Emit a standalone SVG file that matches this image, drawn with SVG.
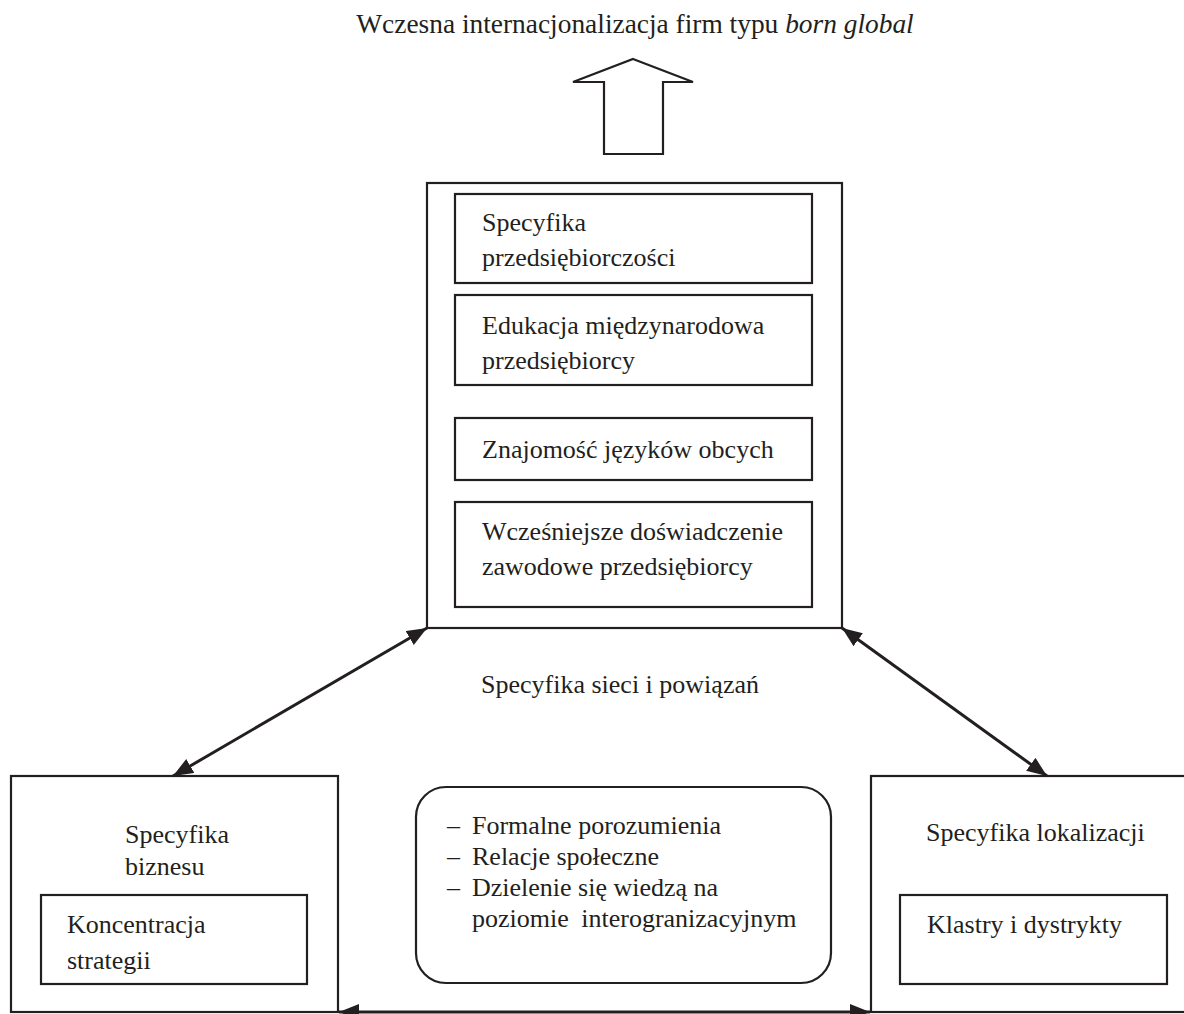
<svg xmlns="http://www.w3.org/2000/svg" width="1184" height="1014" viewBox="0 0 1184 1014">
<style>
.box{fill:none;stroke:#231f20;stroke-width:2.2}
.t{font-family:"Liberation Serif","Times New Roman",serif;font-size:26px;fill:#231f20}
.con{stroke:#231f20;stroke-width:3;fill:none}
</style>
<defs>
<marker id="ah" viewBox="0 0 20 16" refX="20" refY="8" markerWidth="20" markerHeight="16" markerUnits="userSpaceOnUse" orient="auto-start-reverse">
<path d="M0,0 L20,8 L0,16 Z" fill="#231f20"/>
</marker>
</defs>
<rect width="1184" height="1014" fill="#fff"/>
<g id="title">
<text class="t" x="635" y="33" text-anchor="middle" style="font-size:27.4px">Wczesna internacjonalizacja firm typu <tspan font-style="italic">born global</tspan></text>
</g>
<g id="up-arrow">
<polygon class="box" points="633,59 693,82 663,82 663,154 604,154 604,82 573,82"/>
</g>
<g id="center-box">
<rect class="box" x="427" y="183" width="415" height="445"/>
<rect class="box" x="455" y="194" width="357" height="89"/>
<text class="t" x="482" y="231">Specyfika</text>
<text class="t" x="482" y="266">przedsiębiorczości</text>
<rect class="box" x="455" y="295" width="357" height="90"/>
<text class="t" x="482" y="334">Edukacja międzynarodowa</text>
<text class="t" x="482" y="369">przedsiębiorcy</text>
<rect class="box" x="455" y="418" width="357" height="62"/>
<text class="t" x="482" y="458">Znajomość języków obcych</text>
<rect class="box" x="455" y="502" width="357" height="105"/>
<text class="t" x="482" y="540">Wcześniejsze doświadczenie</text>
<text class="t" x="482" y="575">zawodowe przedsiębiorcy</text>
</g>
<g id="network-label">
<text class="t" x="620" y="693" text-anchor="middle">Specyfika sieci i powiązań</text>
</g>
<g id="left-box">
<rect class="box" x="11" y="776" width="327" height="236"/>
<text class="t" x="125" y="843">Specyfika</text>
<text class="t" x="125" y="875">biznesu</text>
<rect class="box" x="41" y="895" width="266" height="89"/>
<text class="t" x="67" y="933">Koncentracja</text>
<text class="t" x="67" y="969">strategii</text>
</g>
<g id="middle-box">
<rect class="box" x="416" y="787" width="415" height="196" rx="30" ry="30"/>
<text class="t" x="447" y="834">–<tspan x="472">Formalne porozumienia</tspan></text>
<text class="t" x="447" y="865">–<tspan x="472">Relacje społeczne</tspan></text>
<text class="t" x="447" y="896">–<tspan x="472">Dzielenie się wiedzą na</tspan></text>
<text class="t" x="472" y="927" word-spacing="6">poziomie interogranizacyjnym</text>
</g>
<g id="right-box">
<rect class="box" x="871" y="776" width="330" height="236"/>
<text class="t" x="926" y="841">Specyfika lokalizacji</text>
<rect class="box" x="900" y="895" width="267" height="89"/>
<text class="t" x="927" y="933">Klastry i dystrykty</text>
</g>
<g id="connectors">
<line class="con" x1="427" y1="628" x2="173" y2="776" marker-start="url(#ah)" marker-end="url(#ah)"/>
<line class="con" x1="842" y1="628" x2="1047" y2="776" marker-start="url(#ah)" marker-end="url(#ah)"/>
<line class="con" x1="339" y1="1012" x2="870" y2="1012" marker-start="url(#ah)" marker-end="url(#ah)"/>
</g>
</svg>
